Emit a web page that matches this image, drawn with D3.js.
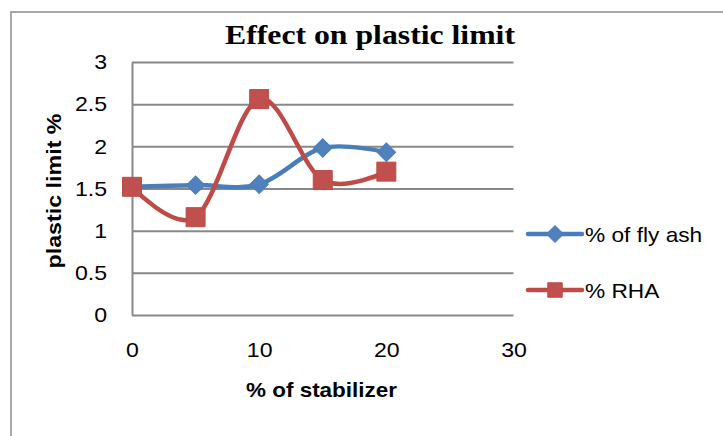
<!DOCTYPE html>
<html lang="en">
<head>
    <meta charset="UTF-8">
    <title>Effect on plastic limit</title>
    <script src="https://d3js.org/d3.v7.min.js"></script>
    <style>
        body {
            margin: 0;
            background: #fff;
        }
    </style>
</head>
<body>
<div id="chart"></div>
<script>
    // data
    var stabilizer = [0, 5, 10, 15, 20];
    var flyAsh = [1.52, 1.54, 1.55, 1.98, 1.93];
    var rha = [1.52, 1.16, 2.56, 1.60, 1.70];
    var yTicks = [0, 0.5, 1, 1.5, 2, 2.5, 3];
    var xTicks = [0, 10, 20, 30];
    var seriesNames = ["% of fly ash", "% RHA"];
    var seriesColors = ["#4A7EBB", "#BE4B48"];
    var markerColors = ["#4F81BD", "#C0504D"];

    var sans = "'Liberation Sans', Arial, sans-serif";

    var margin = { top: 62, left: 132 },
        width = 381.5,
        height = 253;

    var svg = d3.select("#chart")
        .append("svg")
        .attr("width", 723)
        .attr("height", 436);

    // outer chart frame
    svg.append("rect")
        .attr("x", 11)
        .attr("y", 12)
        .attr("width", 800)
        .attr("height", 500)
        .attr("fill", "#fff")
        .attr("stroke", "#8c8c8c")
        .attr("stroke-width", 1.5);

    // widen a text to mimic the stretched look of the original
    function stretch(sel, k) {
        sel.each(function () {
            var w = this.getComputedTextLength();
            this.setAttribute("textLength", w * k);
            this.setAttribute("lengthAdjust", "spacingAndGlyphs");
        });
    }

    svg.append("text")
        .attr("x", 370)
        .attr("y", 44)
        .style("font-family", "'Liberation Serif', 'Times New Roman', serif")
        .style("font-weight", "bold")
        .style("font-size", "28px")
        .style("text-anchor", "middle")
        .text("Effect on plastic limit")
        .attr("textLength", 290)
        .attr("lengthAdjust", "spacingAndGlyphs");

    var g = svg.append("g")
        .attr("transform", "translate(" + margin.left + "," + margin.top + ")");

    var x = d3.scaleLinear().domain([0, 30]).range([0, width]);
    var y = d3.scaleLinear().domain([0, 3]).range([height, 0]);

    // grid lines
    g.append("g")
        .call(d3.axisLeft(y).tickValues(yTicks).tickSize(-width).tickFormat(""))
        .call(s => s.select(".domain").remove())
        .selectAll("line")
        .attr("stroke", "#898989")
        .attr("stroke-width", 2);

    // y axis
    var yAxis = g.append("g")
        .call(d3.axisLeft(y).tickValues(yTicks).tickSize(0).tickPadding(25).tickFormat(d3.format("")));
    yAxis.select(".domain").attr("stroke", "#898989").attr("stroke-width", 2);
    yAxis.selectAll("text")
        .attr("fill", "#000")
        .style("font-family", sans)
        .style("font-size", "21px")
        .call(stretch, 1.1);

    // x axis
    var xAxis = g.append("g")
        .attr("transform", "translate(0," + height + ")")
        .call(d3.axisBottom(x).tickValues(xTicks).tickSize(0).tickPadding(27));
    xAxis.select(".domain").remove();
    xAxis.selectAll("text")
        .attr("fill", "#000")
        .style("font-family", sans)
        .style("font-size", "21px")
        .call(stretch, 1.1);

    svg.append("text")
        .attr("x", 321.5)
        .attr("y", 397)
        .style("font-family", sans)
        .style("font-weight", "bold")
        .style("font-size", "21px")
        .style("text-anchor", "middle")
        .text("% of stabilizer")
        .attr("textLength", 151)
        .attr("lengthAdjust", "spacingAndGlyphs");

    svg.append("text")
        .attr("transform", "translate(61,191) rotate(-90)")
        .style("font-family", sans)
        .style("font-weight", "bold")
        .style("font-size", "21px")
        .style("text-anchor", "middle")
        .text("plastic limit %")
        .attr("textLength", 155)
        .attr("lengthAdjust", "spacingAndGlyphs");

    var series = [flyAsh, rha];

    var line = d3.line()
        .curve(d3.curveCardinal.tension(0))
        .x((d, i) => x(stabilizer[i]))
        .y(d => y(d));

    var square = d3.symbol().type(d3.symbolSquare);

    series.forEach(function (vals, si) {
        g.append("path")
            .datum(vals)
            .attr("fill", "none")
            .attr("stroke", seriesColors[si])
            .attr("stroke-width", 4.5)
            .attr("d", line);
    });

    series.forEach(function (vals, si) {
        g.selectAll(".m" + si)
            .data(vals)
            .enter()
            .append("path")
            .attr("class", "m" + si)
            .attr("d", square.size(si === 0 ? 170 : 361)())
            .attr("transform", (d, i) => "translate(" + x(stabilizer[i]) + "," + y(d) + ")" + (si === 0 ? " rotate(45)" : ""))
            .attr("fill", markerColors[si])
            .attr("stroke", seriesColors[si])
            .attr("stroke-width", 1);
    });

    // legend
    var legendY = [234, 290];
    seriesNames.forEach(function (name, si) {
        var row = svg.append("g").attr("transform", "translate(0," + legendY[si] + ")");
        row.append("line")
            .attr("x1", 528).attr("x2", 582)
            .attr("stroke", seriesColors[si])
            .attr("stroke-width", 4.5)
            .attr("stroke-linecap", "round");
        row.append("path")
            .attr("d", square.size(si === 0 ? 140 : 210)())
            .attr("transform", "translate(555,0)" + (si === 0 ? " rotate(45)" : ""))
            .attr("fill", markerColors[si])
            .attr("stroke", seriesColors[si]);
        row.append("text")
            .attr("x", 585)
            .attr("y", 8)
            .style("font-family", sans)
            .style("font-size", "21px")
            .text(name)
            .call(stretch, 1.08);
    });
</script>
</body>
</html>
